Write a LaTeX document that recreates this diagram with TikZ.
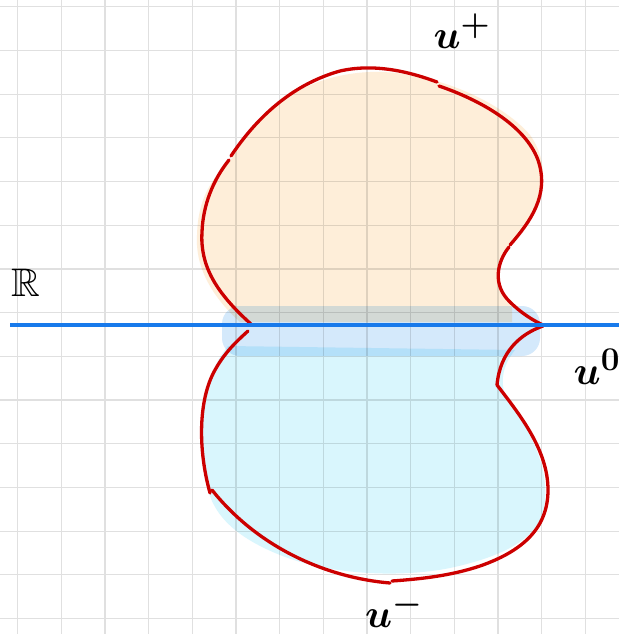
\documentclass[tikz,border=0pt]{standalone}
\usepackage{amssymb}
\definecolor{curvered}{RGB}{204,0,0}
\definecolor{lineblue}{RGB}{24,122,235}
\definecolor{fillorange}{RGB}{254,238,217}
\definecolor{fillband}{RGB}{212,233,251}
\definecolor{fillcyan}{RGB}{217,246,253}
\begin{document}
\begin{tikzpicture}[x=1pt,y=-1pt,
  gridline/.style={draw=black!12, line width=1.2pt},
  redcurve/.style={draw=curvered, line width=3.3pt, line cap=round, line join=round},
  bluelinestyle/.style={draw=lineblue, line width=3.4pt},
  lbl/.style={inner sep=0pt, font=\Huge\boldmath, scale=1.6}]
\useasboundingbox (0,0) rectangle (619,634);
\fill[white] (0,0) rectangle (619,634);
% grid
\foreach \i in {0,...,13} {\draw[gridline] (17.7+43.67*\i,0) -- (17.7+43.67*\i,634);}
\foreach \j in {0,...,14} {\draw[gridline] (0,6.7+43.7*\j) -- (619,6.7+43.7*\j);}
% fills
\begin{scope}[blend mode=multiply]
\fill[fillorange] (232,158) .. controls (255,115) and (300,75) .. (370,72)
  .. controls (430,70) and (500,100) .. (530,135) .. controls (555,170) and (540,210) .. (510,245)
  .. controls (495,265) and (495,290) .. (512,305) -- (512,322) -- (240,322)
  .. controls (210,295) and (195,265) .. (197,235) .. controls (198,200) and (210,180) .. (232,158) -- cycle;
\fill[fillband, rounded corners=18pt]
  (222,306) -- (540,306) -- (540,356) -- (222,356) -- cycle;
\fill[fillcyan] (228,346) -- (515,350) .. controls (503,365) and (500,380) .. (505,395)
  .. controls (530,430) and (548,465) .. (545,500) .. controls (543,535) and (510,555) .. (450,568)
  .. controls (400,578) and (330,575) .. (280,555) .. controls (230,535) and (210,510) .. (206,480)
  .. controls (198,430) and (200,380) .. (228,346) -- cycle;
\end{scope}
% red outline strokes
\draw[redcurve] (252,325) .. controls (215,292) and (200,265) .. (202,232)
  .. controls (203,205) and (213,180) .. (229,160);
\draw[redcurve] (231,156) .. controls (255,120) and (290,85) .. (340,71)
  .. controls (375,63) and (410,72) .. (437,82);
\draw[redcurve] (439,86) .. controls (480,100) and (525,125) .. (538,160)
  .. controls (550,195) and (530,222) .. (510,245);
\draw[redcurve] (509,247) .. controls (497,262) and (492,285) .. (510,302)
  .. controls (520,312) and (532,320) .. (543,325);
\draw[redcurve] (543,326) .. controls (520,334) and (500,352) .. (497,385);
\draw[redcurve] (497,385) .. controls (520,415) and (548,450) .. (548,490)
  .. controls (548,530) and (520,552) .. (480,566) .. controls (450,576) and (420,579) .. (392,581);
\draw[redcurve] (390,583) .. controls (330,578) and (260,550) .. (212,490);
\draw[redcurve] (210,493) .. controls (198,450) and (198,400) .. (215,370)
  .. controls (225,352) and (237,341) .. (248,331);
% the real line
\draw[bluelinestyle] (10,325) -- (619,325);
% labels
\node[lbl] (uplus) at (462,31) {$u^+$};
\node[lbl] (R) at (26,283) {$\mathbb{R}$};
\node[lbl] (uzero) at (597,367) {$u^0$};
\node[lbl] (uminus) at (394,610) {$u^-$};
\end{tikzpicture}
\end{document}
